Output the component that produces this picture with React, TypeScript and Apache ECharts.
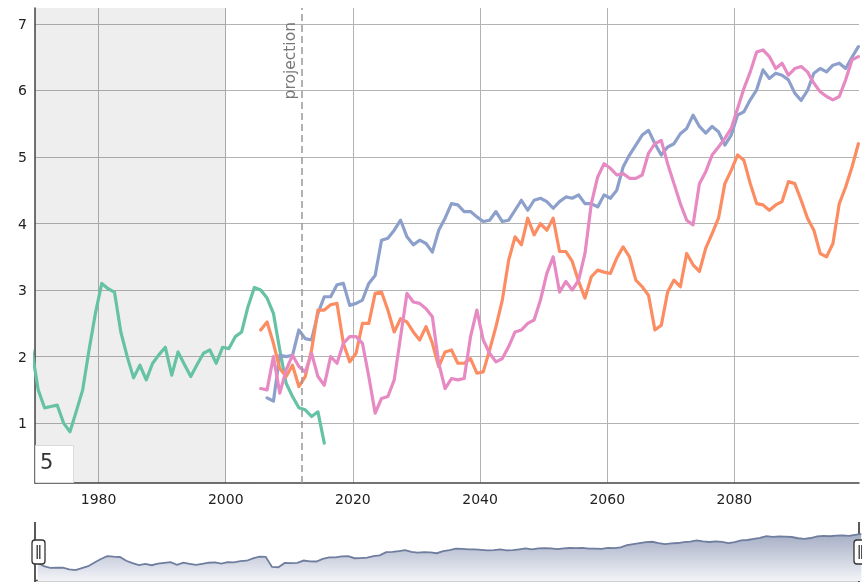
import React, { useEffect, useRef } from "react";
import * as echarts from "echarts";

// ---- data (annual values, plotted at mid-year) ----
const HIST_START = 1969;
const HISTORICAL = [
  2.1, 1.5, 1.23, 1.25, 1.27, 1.0, 0.87, 1.18, 1.5, 2.1,
  2.65, 3.1, 3.02, 2.97, 2.37, 2.0, 1.68, 1.87, 1.65, 1.9,
  2.03, 2.14, 1.72, 2.07, 1.88, 1.7, 1.88, 2.05, 2.1, 1.9,
  2.14, 2.12, 2.3, 2.37, 2.75, 3.04, 3.0, 2.88, 2.65, 2.1,
  1.6, 1.4, 1.23, 1.2, 1.1, 1.17, 0.7,
];

const BLUE_START = 2006;
const MODEL_BLUE = [
  1.38, 1.33, 2.02, 2.0, 2.02, 2.4, 2.27, 2.25, 2.65, 2.9,
  2.9, 3.08, 3.1, 2.77, 2.8, 2.85, 3.1, 3.22, 3.75, 3.78,
  3.9, 4.05, 3.8, 3.68, 3.75, 3.7, 3.57, 3.9, 4.08, 4.3,
  4.28, 4.18, 4.18, 4.1, 4.03, 4.05, 4.18, 4.03, 4.05, 4.2,
  4.35, 4.2, 4.35, 4.38, 4.33, 4.23, 4.33, 4.4, 4.38, 4.43,
  4.3, 4.3, 4.25, 4.43, 4.38, 4.5, 4.85, 5.03, 5.18, 5.33,
  5.4, 5.2, 5.03, 5.15, 5.2, 5.35, 5.43, 5.63, 5.46, 5.36,
  5.46, 5.38, 5.18, 5.33, 5.63, 5.68, 5.86, 6.01, 6.31, 6.18,
  6.26, 6.23, 6.16, 5.96, 5.85, 6.0, 6.26, 6.33, 6.28, 6.38,
  6.41, 6.33, 6.5, 6.66,
];

const ORANGE_START = 2005;
const MODEL_ORANGE = [
  2.4, 2.52, 2.2, 1.82, 1.7, 1.87, 1.55, 1.7, 2.1, 2.7,
  2.7, 2.78, 2.8, 2.2, 1.92, 2.05, 2.5, 2.5, 2.95, 2.97,
  2.7, 2.37, 2.57, 2.52, 2.37, 2.25, 2.45, 2.2, 1.85, 2.07,
  2.1, 1.9, 1.9, 1.97, 1.75, 1.77, 2.1, 2.45, 2.85, 3.45,
  3.8, 3.68, 4.08, 3.83, 4.0, 3.9, 4.08, 3.58, 3.58, 3.43,
  3.13, 2.88, 3.2, 3.3, 3.27, 3.25, 3.48, 3.65, 3.5, 3.15,
  3.05, 2.92, 2.4, 2.47, 2.97, 3.15, 3.05, 3.55, 3.38, 3.28,
  3.63, 3.85, 4.08, 4.6, 4.8, 5.03, 4.95, 4.6, 4.3, 4.28,
  4.2, 4.28, 4.33, 4.63, 4.6, 4.35, 4.08, 3.9, 3.55, 3.5,
  3.7, 4.3, 4.55, 4.85, 5.2,
];

const PINK_START = 2005;
const MODEL_PINK = [
  1.52, 1.5, 2.0, 1.45, 1.8, 2.02, 1.85, 1.77, 2.05, 1.7,
  1.57, 2.0, 1.9, 2.2, 2.3, 2.3, 2.2, 1.7, 1.15, 1.37,
  1.4, 1.65, 2.3, 2.95, 2.82, 2.8, 2.72, 2.6, 1.9, 1.52,
  1.67, 1.65, 1.67, 2.3, 2.7, 2.25, 2.05, 1.92, 1.97, 2.15,
  2.37, 2.4, 2.5, 2.55, 2.85, 3.25, 3.5, 2.97, 3.13, 3.0,
  3.15, 3.55, 4.3, 4.7, 4.9, 4.83, 4.73, 4.75, 4.68, 4.68,
  4.73, 5.06, 5.2, 5.25, 4.9, 4.6, 4.3, 4.05, 3.98, 4.6,
  4.78, 5.03, 5.15, 5.28, 5.43, 5.73, 6.03, 6.28, 6.58, 6.61,
  6.51, 6.33, 6.41, 6.23, 6.33, 6.36, 6.28, 6.11, 5.98, 5.91,
  5.86, 5.91, 6.16, 6.46, 6.51,
];

const X_RANGE = [1970, 2099.6];
const Y_RANGE = [0.1, 7.24];
const X_LABEL_STEP = 20;
const SHADED_PERIOD = [1970, 2000];
const PROJECTION_YEAR = 2012;
const PROJECTION_LABEL = "projection";
const ROLL_PERIOD = "5";

const COLORS = {
  historical: "#66c2a5",
  blue: "#8da0cb",
  orange: "#fc8d62",
  pink: "#e78ac3",
};

const MID_YEAR = 0.5;
const toPoints = (start: number, vals: number[]) =>
  vals.map((v, i) => [start + i + MID_YEAR, v]);

export default function App() {
  const ref = useRef<HTMLDivElement>(null);

  useEffect(() => {
    if (!ref.current) return;
    const chart = echarts.init(ref.current, null, { renderer: "svg" });
    const font = "'DejaVu Sans', Verdana, sans-serif";

    // range-selector shadow: historical record followed by the first model run
    const shadowData = [
      ...toPoints(HIST_START, HISTORICAL.slice(0, BLUE_START - HIST_START)),
      ...toPoints(BLUE_START, MODEL_BLUE),
    ];

    const lineSeries = (name: string, color: string, data: number[][]) => ({
      name,
      type: "line",
      data,
      symbol: "none",
      silent: true,
      clip: true,
      lineStyle: { color, width: 3.2, cap: "round", join: "round" },
      itemStyle: { color },
      z: 3,
    });

    const shadowGradient = new echarts.graphic.LinearGradient(0, 0, 0, 1, [
      { offset: 0, color: "#f3f4f8" },
      { offset: 1, color: "#a5aec5" },
    ]);

    const option = {
      animation: false,
      textStyle: { fontFamily: font },
      grid: { left: 35, right: 3, top: 8, bottom: 99, containLabel: false },
      xAxis: {
        type: "value",
        min: X_RANGE[0],
        max: X_RANGE[1],
        splitNumber: 7,
        axisLine: { show: true, lineStyle: { color: "#444", width: 1.5 } },
        axisTick: { show: false },
        axisLabel: {
          color: "#222",
          fontSize: 14,
          fontFamily: font,
          margin: 9,
          showMinLabel: false,
          showMaxLabel: false,
          formatter: (v: number) => (v % X_LABEL_STEP === 0 ? String(v) : ""),
        },
        splitLine: {
          show: true,
          showMinLine: false,
          showMaxLine: false,
          lineStyle: { color: "#b3b3b3", width: 1 },
        },
      },
      yAxis: {
        type: "value",
        min: Y_RANGE[0],
        max: Y_RANGE[1],
        splitNumber: 5,
        axisLine: { show: true, lineStyle: { color: "#444", width: 1.5 } },
        axisTick: { show: false },
        axisLabel: {
          color: "#222",
          fontSize: 14,
          fontFamily: font,
          margin: 8,
          showMinLabel: false,
          showMaxLabel: false,
          formatter: (v: number) => (Number.isInteger(v) ? String(v) : ""),
        },
        splitLine: {
          show: true,
          showMinLine: false,
          showMaxLine: false,
          lineStyle: { color: "#b3b3b3", width: 1 },
        },
      },
      dataZoom: [
        {
          type: "slider",
          xAxisIndex: 0,
          filterMode: "none",
          start: 0,
          end: 100,
          left: 35,
          right: 3,
          top: 523,
          height: 58,
          showDetail: false,
          brushSelect: false,
          moveHandleSize: 0,
          borderColor: "transparent",
          backgroundColor: "transparent",
          fillerColor: "rgba(0,0,0,0)",
          handleIcon:
            "path://M3,0 H10 Q13,0 13,3 V21 Q13,24 10,24 H3 Q0,24 0,21 V3 Q0,0 3,0 Z M5.2,5 V19 M7.8,5 V19",
          handleSize: 24,
          handleStyle: { color: "#fff", borderColor: "#333", borderWidth: 1.3 },
          emphasis: { handleStyle: { color: "#fff", borderColor: "#333" } },
          dataBackground: {
            lineStyle: { color: "#6f7d9f", width: 1.8, opacity: 1 },
            areaStyle: { color: shadowGradient, opacity: 1 },
          },
          selectedDataBackground: {
            lineStyle: { color: "#6f7d9f", width: 1.8, opacity: 1 },
            areaStyle: { color: shadowGradient, opacity: 1 },
          },
        },
      ],
      series: [
        {
          name: "range",
          type: "line",
          data: shadowData,
          symbol: "none",
          silent: true,
          lineStyle: { opacity: 0, width: 0 },
          z: 1,
          markArea: {
            silent: true,
            itemStyle: { color: "rgba(0,0,0,0.065)" },
            data: [[{ xAxis: SHADED_PERIOD[0] }, { xAxis: SHADED_PERIOD[1] }]],
          },
          markLine: {
            silent: true,
            symbol: ["none", "none"],
            lineStyle: { color: "#999", width: 1.5, type: [7, 4] },
            label: {
              show: true,
              formatter: PROJECTION_LABEL,
              position: "insideEndTop",
              color: "#777",
              fontSize: 15.5,
              fontFamily: font,
              distance: [14, 4],
            },
            data: [{ xAxis: PROJECTION_YEAR }],
          },
        },
        lineSeries("Historical", COLORS.historical, toPoints(HIST_START, HISTORICAL)),
        lineSeries("Model A", COLORS.blue, toPoints(BLUE_START, MODEL_BLUE)),
        lineSeries("Model B", COLORS.orange, toPoints(ORANGE_START, MODEL_ORANGE)),
        lineSeries("Model C", COLORS.pink, toPoints(PINK_START, MODEL_PINK)),
      ],
      graphic: [
        {
          type: "rect",
          z: 100,
          shape: { x: 35.5, y: 445.5, width: 38, height: 37 },
          style: { fill: "#fff", stroke: "#dcdcdc", lineWidth: 1 },
        },
        {
          type: "text",
          z: 101,
          x: 40,
          y: 451,
          style: { text: ROLL_PERIOD, fontSize: 21, fill: "#333", fontFamily: font },
        },
        {
          type: "line",
          z: 1,
          shape: { x1: 35, y1: 522, x2: 35, y2: 582 },
          style: { stroke: "#222", lineWidth: 1.5 },
        },
        {
          type: "line",
          z: 1,
          shape: { x1: 859, y1: 522, x2: 859, y2: 582 },
          style: { stroke: "#222", lineWidth: 1.5 },
        },
        {
          type: "line",
          z: 1,
          shape: { x1: 35, y1: 580.5, x2: 859, y2: 580.5 },
          style: { stroke: "#444", lineWidth: 1.5 },
        },
      ],
    };

    chart.setOption(option as any);
    return () => chart.dispose();
  }, []);

  return (
    <div
      ref={ref}
      style={{ position: "fixed", left: 0, top: 0, width: 862, height: 582 }}
    />
  );
}
